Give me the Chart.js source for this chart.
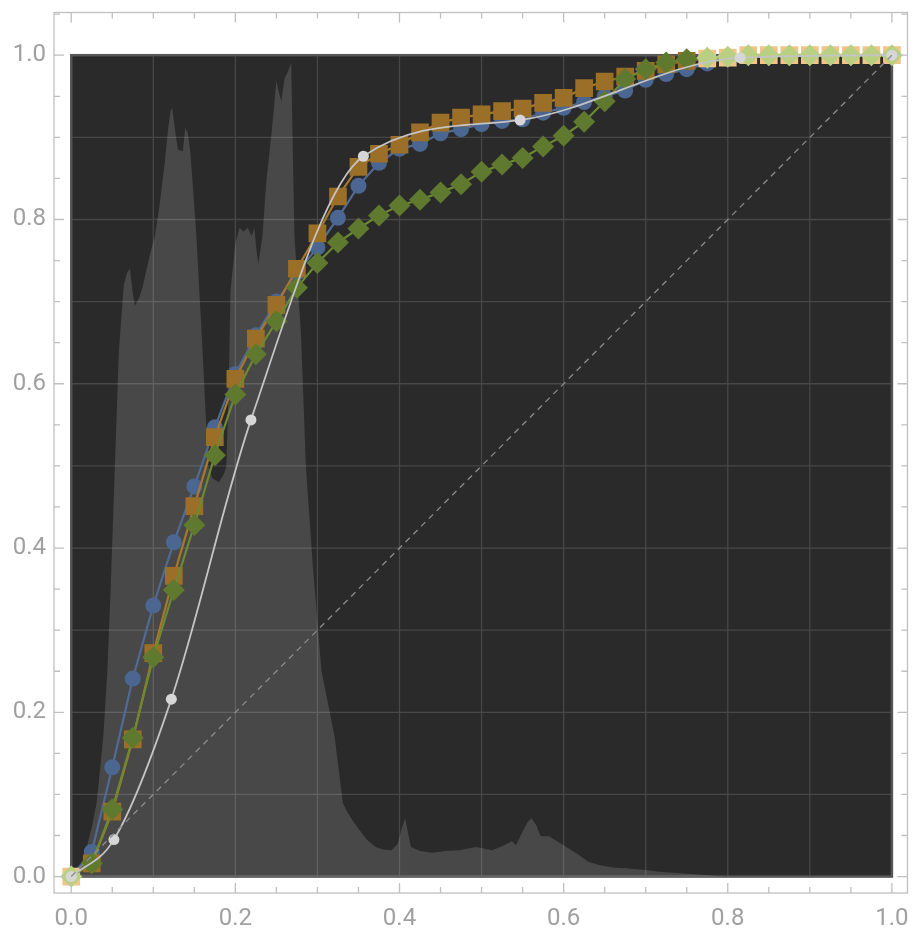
<!DOCTYPE html>
<html>
<head>
<meta charset="utf-8">
<script src="https://cdn.jsdelivr.net/npm/chart.js@4.4.1/dist/chart.umd.min.js"></script>
<style>
  html, body { margin: 0; padding: 0; background: #fff; }
</style>
</head>
<body>
<canvas id="roc" width="920" height="946"></canvas>
<script>
// threshold steps shared by the three marker series
const steps = [0, 0.025, 0.05, 0.075, 0.1, 0.125, 0.15, 0.175, 0.2, 0.225, 0.25, 0.275, 0.3, 0.325, 0.35, 0.375, 0.4, 0.425, 0.45, 0.475, 0.5, 0.525, 0.55, 0.575, 0.6, 0.625, 0.65, 0.675, 0.7, 0.725, 0.75, 0.775, 0.8, 0.825, 0.85, 0.875, 0.9, 0.925, 0.95, 0.975, 1];

const blueVals = [0, 0.030, 0.133, 0.241, 0.330, 0.407, 0.475, 0.547, 0.612, 0.659, 0.700, 0.735, 0.766, 0.802, 0.841, 0.869, 0.886, 0.892, 0.905, 0.910, 0.916, 0.920, 0.922, 0.930, 0.936, 0.943, 0.950, 0.957, 0.970, 0.977, 0.983, 0.990, 0.996, 1, 1, 1, 1, 1, 1, 1, 1];
const orangeVals = [0, 0.016, 0.079, 0.167, 0.272, 0.366, 0.451, 0.535, 0.606, 0.655, 0.696, 0.740, 0.783, 0.828, 0.864, 0.880, 0.891, 0.906, 0.918, 0.924, 0.928, 0.932, 0.935, 0.942, 0.948, 0.960, 0.968, 0.974, 0.981, 0.989, 0.993, 0.996, 0.997, 1, 1, 1, 1, 1, 1, 1, 1];
const greenVals = [0, 0.016, 0.082, 0.169, 0.267, 0.349, 0.428, 0.513, 0.587, 0.636, 0.676, 0.717, 0.747, 0.772, 0.789, 0.805, 0.817, 0.824, 0.833, 0.843, 0.858, 0.867, 0.875, 0.889, 0.902, 0.919, 0.944, 0.971, 0.983, 0.991, 0.995, 0.997, 0.998, 1, 1, 1, 1, 1, 1, 1, 1];

// smooth reference curve
const whiteX = [0, 0.052, 0.122, 0.219, 0.356, 0.547, 0.815, 1];
const whiteY = [0, 0.045, 0.216, 0.556, 0.877, 0.921, 0.997, 1];

// chance diagonal
const diagX = [0, 1];
const diagY = [0, 1];

// background density shape
const densX = [0, 0.008, 0.014, 0.019, 0.025, 0.031, 0.035, 0.039, 0.044, 0.048, 0.053, 0.058, 0.064, 0.068, 0.0716, 0.075, 0.0776, 0.083, 0.0875, 0.093, 0.098, 0.102, 0.108, 0.114, 0.118, 0.121, 0.123, 0.127, 0.13, 0.136, 0.139, 0.142, 0.145, 0.149, 0.1525, 0.159, 0.163, 0.167, 0.172, 0.18, 0.186, 0.189, 0.192, 0.194, 0.2, 0.205, 0.21, 0.215, 0.22, 0.223, 0.226, 0.228, 0.233, 0.238, 0.244, 0.25, 0.253, 0.256, 0.26, 0.264, 0.268, 0.272, 0.276, 0.28, 0.286, 0.295, 0.305, 0.313, 0.321, 0.331, 0.335, 0.343, 0.351, 0.36, 0.371, 0.38, 0.39, 0.398, 0.403, 0.407, 0.411, 0.414, 0.425, 0.44, 0.455, 0.473, 0.493, 0.513, 0.525, 0.537, 0.542, 0.55, 0.556, 0.561, 0.567, 0.572, 0.582, 0.6, 0.608, 0.616, 0.63, 0.643, 0.66, 0.675, 0.7, 0.716, 0.756, 0.797, 1];
const densY = [0, 0.005, 0.02, 0.036, 0.06, 0.09, 0.13, 0.17, 0.25, 0.35, 0.494, 0.64, 0.72, 0.735, 0.74, 0.71, 0.695, 0.705, 0.72, 0.745, 0.765, 0.78, 0.82, 0.87, 0.91, 0.932, 0.936, 0.905, 0.885, 0.883, 0.912, 0.905, 0.883, 0.83, 0.78, 0.66, 0.58, 0.5, 0.485, 0.48, 0.49, 0.5, 0.6, 0.713, 0.77, 0.79, 0.785, 0.79, 0.78, 0.79, 0.76, 0.746, 0.78, 0.85, 0.904, 0.969, 0.955, 0.944, 0.972, 0.98, 0.991, 0.78, 0.72, 0.66, 0.498, 0.37, 0.25, 0.21, 0.17, 0.09, 0.081, 0.068, 0.057, 0.045, 0.036, 0.033, 0.032, 0.04, 0.06, 0.071, 0.05, 0.036, 0.031, 0.029, 0.031, 0.032, 0.036, 0.032, 0.037, 0.043, 0.038, 0.055, 0.066, 0.071, 0.062, 0.049, 0.049, 0.038, 0.033, 0.028, 0.018, 0.014, 0.011, 0.01, 0.008, 0.006, 0.003, 0, 0];

// axis decorations
const labelTicks = [0, 0.2, 0.4, 0.6, 0.8, 1];
const gridLines = [0.1, 0.2, 0.3, 0.4, 0.5, 0.6, 0.7, 0.8, 0.9];
const xTickMarks = [0, 0.05, 0.1, 0.15, 0.2, 0.25, 0.3, 0.35, 0.4, 0.45, 0.5, 0.55, 0.6, 0.65, 0.7, 0.75, 0.8, 0.85, 0.9, 0.95, 1];
const yTickMarks = [0, 0.05, 0.1, 0.15, 0.2, 0.25, 0.3, 0.35, 0.4, 0.45, 0.5, 0.55, 0.6, 0.65, 0.7, 0.75, 0.8, 0.85, 0.9, 0.95, 1, 1.05];

const pts = (xs, ys) => xs.map((x, i) => ({ x: x, y: ys[i] }));

// markers sitting on the top edge (and the origin) come out light
const shade = (dark, light) => (c) =>
  c.raw && (c.raw.y >= 0.996 || c.raw.x === 0) ? light : dark;

const plotBox = {
  id: "plotBox",
  beforeDatasetsDraw(chart) {
    const { ctx, scales } = chart;
    const x = scales.x, y = scales.y;
    const l = x.getPixelForValue(0), r = x.getPixelForValue(1);
    const t = y.getPixelForValue(1), b = y.getPixelForValue(0);
    ctx.save();
    ctx.fillStyle = "#2a2a2a";
    ctx.fillRect(l, t, r - l, b - t);
    ctx.strokeStyle = "#474747";
    ctx.lineWidth = 1.3;
    ctx.beginPath();
    gridLines.forEach((v) => {
      const px = x.getPixelForValue(v), py = y.getPixelForValue(v);
      ctx.moveTo(px, t); ctx.lineTo(px, b);
      ctx.moveTo(l, py); ctx.lineTo(r, py);
    });
    ctx.stroke();
    ctx.strokeStyle = "#565656";
    ctx.lineWidth = 2.5;
    ctx.strokeRect(l, t, r - l, b - t);
    ctx.restore();
  },
  afterDraw(chart) {
    const { ctx, chartArea: a, scales } = chart;
    ctx.save();
    ctx.strokeStyle = "#c0c0c0";
    ctx.lineWidth = 1.3;
    ctx.strokeRect(a.left, a.top, a.right - a.left, a.bottom - a.top);
    ctx.beginPath();
    const len = (v) => (Math.abs(v / 0.2 - Math.round(v / 0.2)) < 1e-6 ? 10 : 6);
    xTickMarks.forEach((v) => {
      const px = scales.x.getPixelForValue(v);
      ctx.moveTo(px, a.bottom); ctx.lineTo(px, a.bottom - len(v));
      ctx.moveTo(px, a.top); ctx.lineTo(px, a.top + len(v));
    });
    yTickMarks.forEach((v) => {
      const py = scales.y.getPixelForValue(v);
      ctx.moveTo(a.left, py); ctx.lineTo(a.left + len(v), py);
      ctx.moveTo(a.right, py); ctx.lineTo(a.right - len(v), py);
    });
    ctx.stroke();
    ctx.restore();
  },
};

const tickFont = { family: "Roboto", size: 24 };

new Chart(document.getElementById("roc"), {
  type: "line",
  data: {
    datasets: [
      {
        label: "diagonal",
        data: pts(diagX, diagY),
        borderColor: "#8c8c8c",
        borderWidth: 1.3,
        borderDash: [6, 5],
        pointRadius: 0,
        order: 0,
      },
      {
        label: "reference",
        data: pts(whiteX, whiteY),
        borderColor: "#c4c4c4",
        borderWidth: 1.8,
        cubicInterpolationMode: "monotone",
        pointRadius: 5.5,
        pointBackgroundColor: "#d6d6d6",
        pointBorderWidth: 0,
        order: 1,
      },
      {
        label: "green",
        data: pts(steps, greenVals),
        borderColor: "#6c8a30",
        borderWidth: 2.2,
        pointStyle: "rectRot",
        pointRadius: 11,
        pointBackgroundColor: shade("#5f792e", "#b9d083"),
        pointBorderWidth: 0,
        order: 2,
      },
      {
        label: "orange",
        data: pts(steps, orangeVals),
        borderColor: "#a8782c",
        borderWidth: 2.2,
        pointStyle: "rect",
        pointRadius: 12.5,
        pointBackgroundColor: shade("#9b6f28", "#f0c587"),
        pointBorderWidth: 0,
        order: 3,
      },
      {
        label: "blue",
        data: pts(steps, blueVals),
        borderColor: "#4f6b96",
        borderWidth: 2.2,
        pointRadius: 8,
        pointBackgroundColor: shade("#4a6691", "#9fb4d6"),
        pointBorderWidth: 0,
        order: 4,
      },
      {
        label: "density",
        data: pts(densX, densY),
        borderWidth: 0,
        backgroundColor: "rgba(255,255,255,0.14)",
        fill: "origin",
        pointRadius: 0,
        order: 5,
      },
    ],
  },
  options: {
    responsive: false,
    animation: false,
    devicePixelRatio: 1,
    layout: { padding: { top: 12, right: 6, left: 0, bottom: 0 } },
    plugins: { legend: { display: false }, tooltip: { enabled: false } },
    scales: {
      x: {
        type: "linear",
        min: -0.021,
        max: 1.019,
        afterBuildTicks: (s) => { s.ticks = labelTicks.map((v) => ({ value: v })); },
        afterFit: (s) => { s.height = 53; s.paddingLeft = 0; s.paddingRight = 0; },
        grid: { display: false, drawTicks: false },
        border: { display: false },
        ticks: {
          autoSkip: false,
          maxRotation: 0,
          padding: 12,
          color: "#a0a0a0",
          font: tickFont,
          callback: (v) => v.toFixed(1),
        },
      },
      y: {
        type: "linear",
        min: -0.02,
        max: 1.052,
        afterBuildTicks: (s) => { s.ticks = labelTicks.map((v) => ({ value: v })); },
        afterFit: (s) => { s.width = 54; s.paddingTop = 0; s.paddingBottom = 0; },
        grid: { display: false, drawTicks: false },
        border: { display: false },
        ticks: {
          autoSkip: false,
          padding: 8,
          color: "#a0a0a0",
          font: tickFont,
          callback: (v) => v.toFixed(1),
        },
      },
    },
  },
  plugins: [plotBox],
});
</script>
</body>
</html>
